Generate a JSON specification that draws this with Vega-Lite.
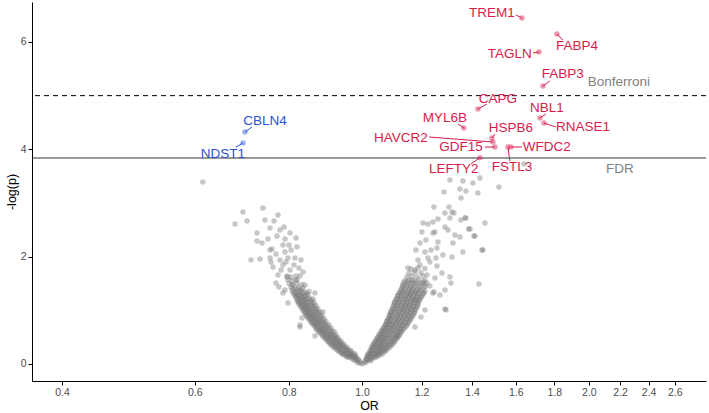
{
"$schema":"https://vega.github.io/schema/vega-lite/v6.json",
"width":674,"height":379,
"autosize":{"type":"none"},
"padding":{"left":32,"top":2,"right":3,"bottom":32},
"background":"white",
"config":{"view":{"stroke":null},
"axis":{"grid":false,"domainColor":"#000000","domainWidth":1,"tickColor":"#000000","tickSize":4,"tickWidth":1,"labelColor":"#4d4d4d","labelFontSize":10.5,"labelFont":"Liberation Sans","titleFont":"Liberation Sans","titleFontSize":12.5,"titleFontWeight":"normal","titleColor":"#000000","labelPadding":2,"titlePadding":2},
"text":{"font":"Liberation Sans"}},
"datasets":{
"grey":[
{"x":0.9879,"y":0.02},{"x":0.9969,"y":0.01},
{"x":0.9759,"y":0.07},{"x":0.9848,"y":0.05},{"x":0.9939,"y":0.04},
{"x":0.9611,"y":0.12},{"x":0.97,"y":0.1},{"x":0.9788,"y":0.12},{"x":0.9879,"y":0.09},
{"x":0.9465,"y":0.17},{"x":0.9553,"y":0.15},{"x":0.964,"y":0.17},{"x":0.9729,"y":0.15},{"x":0.9818,"y":0.14},
{"x":0.935,"y":0.22},{"x":0.9436,"y":0.2},{"x":0.9524,"y":0.22},{"x":0.9611,"y":0.2},{"x":0.97,"y":0.21},{"x":0.9788,"y":0.19},
{"x":0.9237,"y":0.28},{"x":0.9322,"y":0.26},{"x":0.9407,"y":0.28},{"x":0.9494,"y":0.26},{"x":0.9582,"y":0.27},{"x":0.967,"y":0.25},
{"x":0.9125,"y":0.34},{"x":0.9209,"y":0.32},{"x":0.9294,"y":0.34},{"x":0.9379,"y":0.32},{"x":0.9465,"y":0.33},{"x":0.9553,"y":0.31},
{"x":0.9042,"y":0.4},{"x":0.9125,"y":0.38},{"x":0.9209,"y":0.4},{"x":0.9294,"y":0.38},{"x":0.9379,"y":0.39},{"x":0.9465,"y":0.37},
{"x":0.896,"y":0.46},{"x":0.9042,"y":0.44},{"x":0.9125,"y":0.46},{"x":0.9209,"y":0.44},{"x":0.9294,"y":0.45},{"x":0.9379,"y":0.43},
{"x":0.8877,"y":0.52},{"x":0.896,"y":0.5},{"x":0.9042,"y":0.52},{"x":0.9125,"y":0.5},{"x":0.9209,"y":0.51},{"x":0.9294,"y":0.49},
{"x":0.8797,"y":0.58},{"x":0.8877,"y":0.56},{"x":0.896,"y":0.58},{"x":0.9042,"y":0.56},{"x":0.9125,"y":0.57},{"x":0.9237,"y":0.55},
{"x":0.8716,"y":0.64},{"x":0.8797,"y":0.62},{"x":0.8877,"y":0.64},{"x":0.896,"y":0.62},{"x":0.9069,"y":0.63},{"x":0.9181,"y":0.61},
{"x":0.8663,"y":0.7},{"x":0.8742,"y":0.68},{"x":0.8823,"y":0.7},{"x":0.8905,"y":0.68},{"x":0.8986,"y":0.69},{"x":0.9098,"y":0.67},
{"x":0.8584,"y":0.76},{"x":0.8663,"y":0.74},{"x":0.8742,"y":0.76},{"x":0.8823,"y":0.74},{"x":0.8932,"y":0.75},{"x":0.9042,"y":0.73},
{"x":0.8532,"y":0.82},{"x":0.861,"y":0.8},{"x":0.869,"y":0.82},{"x":0.877,"y":0.8},{"x":0.885,"y":0.81},{"x":0.896,"y":0.79},
{"x":0.8454,"y":0.88},{"x":0.8532,"y":0.86},{"x":0.861,"y":0.88},{"x":0.869,"y":0.86},{"x":0.8797,"y":0.87},{"x":0.8905,"y":0.85},
{"x":0.8403,"y":0.94},{"x":0.848,"y":0.92},{"x":0.8558,"y":0.94},{"x":0.8637,"y":0.92},{"x":0.8742,"y":0.93},{"x":0.885,"y":0.91},
{"x":0.8351,"y":1.0},{"x":0.8429,"y":0.98},{"x":0.8506,"y":1.0},{"x":0.8584,"y":0.98},{"x":0.869,"y":0.99},{"x":0.8797,"y":0.97},
{"x":0.8301,"y":1.06},{"x":0.8378,"y":1.04},{"x":0.8454,"y":1.06},{"x":0.8532,"y":1.04},{"x":0.8637,"y":1.05},{"x":0.8742,"y":1.03},
{"x":0.825,"y":1.12},{"x":0.8326,"y":1.1},{"x":0.8403,"y":1.12},{"x":0.848,"y":1.1},{"x":0.8584,"y":1.11},{"x":0.869,"y":1.09},
{"x":0.82,"y":1.18},{"x":0.8275,"y":1.16},{"x":0.8351,"y":1.18},{"x":0.8429,"y":1.16},{"x":0.8532,"y":1.17},{"x":0.8637,"y":1.15},
{"x":0.8175,"y":1.24},{"x":0.825,"y":1.22},{"x":0.8326,"y":1.24},{"x":0.8403,"y":1.22},{"x":0.8506,"y":1.23},{"x":0.861,"y":1.21},
{"x":0.8125,"y":1.3},{"x":0.82,"y":1.28},{"x":0.8275,"y":1.3},{"x":0.8378,"y":1.28},{"x":0.848,"y":1.29},
{"x":0.8076,"y":1.36},{"x":0.8175,"y":1.34},{"x":0.8275,"y":1.36},{"x":0.8378,"y":1.34},{"x":0.8506,"y":1.35},
{"x":0.8051,"y":1.43},{"x":0.815,"y":1.41},{"x":0.825,"y":1.43},{"x":0.8351,"y":1.41},
{"x":0.8002,"y":1.5},{"x":0.81,"y":1.48},{"x":0.82,"y":1.5},{"x":0.8326,"y":1.48},
{"x":0.7977,"y":1.57},{"x":0.8076,"y":1.55},{"x":0.82,"y":1.57},
{"x":0.7953,"y":1.64},{"x":0.8051,"y":1.62},{"x":0.8175,"y":1.64},
{"x":0.9804,"y":0.085},{"x":0.9894,"y":0.08},
{"x":0.9538,"y":0.135},{"x":0.9627,"y":0.14},{"x":0.9716,"y":0.13},{"x":0.9803,"y":0.135},
{"x":0.9408,"y":0.185},{"x":0.9495,"y":0.19},{"x":0.9582,"y":0.18},{"x":0.967,"y":0.185},{"x":0.9758,"y":0.17},
{"x":0.9293,"y":0.245},{"x":0.938,"y":0.25},{"x":0.9465,"y":0.24},{"x":0.9553,"y":0.245},{"x":0.964,"y":0.235},
{"x":0.9181,"y":0.305},{"x":0.9265,"y":0.31},{"x":0.935,"y":0.3},{"x":0.9436,"y":0.305},{"x":0.9524,"y":0.295},
{"x":0.9083,"y":0.365},{"x":0.9167,"y":0.37},{"x":0.9251,"y":0.36},{"x":0.9337,"y":0.365},{"x":0.9422,"y":0.355},
{"x":0.9001,"y":0.425},{"x":0.9083,"y":0.43},{"x":0.9167,"y":0.42},{"x":0.9251,"y":0.425},{"x":0.9336,"y":0.415},
{"x":0.8918,"y":0.485},{"x":0.9001,"y":0.49},{"x":0.9083,"y":0.48},{"x":0.9167,"y":0.485},{"x":0.9251,"y":0.475},
{"x":0.8837,"y":0.545},{"x":0.8918,"y":0.55},{"x":0.9001,"y":0.54},{"x":0.9083,"y":0.545},{"x":0.9181,"y":0.535},
{"x":0.8756,"y":0.605},{"x":0.8837,"y":0.61},{"x":0.8918,"y":0.6},{"x":0.9014,"y":0.605},{"x":0.9125,"y":0.595},
{"x":0.869,"y":0.665},{"x":0.877,"y":0.67},{"x":0.885,"y":0.66},{"x":0.8932,"y":0.665},{"x":0.9042,"y":0.655},
{"x":0.8623,"y":0.725},{"x":0.8703,"y":0.73},{"x":0.8783,"y":0.72},{"x":0.8878,"y":0.725},{"x":0.8986,"y":0.715},
{"x":0.8558,"y":0.785},{"x":0.8637,"y":0.79},{"x":0.8716,"y":0.78},{"x":0.8797,"y":0.785},{"x":0.8905,"y":0.775},
{"x":0.8493,"y":0.845},{"x":0.8571,"y":0.85},{"x":0.865,"y":0.84},{"x":0.8743,"y":0.845},{"x":0.885,"y":0.835},
{"x":0.8441,"y":0.905},{"x":0.8519,"y":0.91},{"x":0.8597,"y":0.9},{"x":0.869,"y":0.905},{"x":0.8797,"y":0.895},
{"x":0.839,"y":0.965},{"x":0.8467,"y":0.97},{"x":0.8545,"y":0.96},{"x":0.8637,"y":0.965},{"x":0.8743,"y":0.955},
{"x":0.834,"y":1.025},{"x":0.8416,"y":1.03},{"x":0.8493,"y":1.02},{"x":0.8584,"y":1.025},{"x":0.869,"y":1.015},
{"x":0.8288,"y":1.085},{"x":0.8365,"y":1.09},{"x":0.8441,"y":1.08},{"x":0.8532,"y":1.085},{"x":0.8637,"y":1.075},
{"x":0.8238,"y":1.145},{"x":0.8313,"y":1.15},{"x":0.839,"y":1.14},{"x":0.848,"y":1.145},{"x":0.8584,"y":1.135},
{"x":0.8213,"y":1.205},{"x":0.8288,"y":1.21},{"x":0.8365,"y":1.2},{"x":0.8455,"y":1.205},{"x":0.8558,"y":1.195},
{"x":0.8163,"y":1.265},{"x":0.8238,"y":1.27},{"x":0.8326,"y":1.26},{"x":0.8429,"y":1.265},
{"x":0.8125,"y":1.325},{"x":0.8225,"y":1.33},{"x":0.8326,"y":1.32},{"x":0.8442,"y":1.325},
{"x":0.81,"y":1.39},{"x":0.82,"y":1.395},{"x":0.83,"y":1.385},
{"x":0.615,"y":3.39},{"x":0.6953,"y":2.832},{"x":0.7391,"y":2.907},{"x":0.6786,"y":2.609},{"x":0.704,"y":2.664},{"x":0.7436,"y":2.683},{"x":0.7644,"y":2.664},{"x":0.7738,"y":2.776},{"x":0.7881,"y":2.553},{"x":0.7257,"y":2.441},{"x":0.7257,"y":2.292},{"x":0.7369,"y":2.255},{"x":0.7505,"y":2.329},{"x":0.7714,"y":2.385},{"x":0.7905,"y":2.329},{"x":0.8175,"y":2.348},{"x":0.7857,"y":2.217},{"x":0.82,"y":2.18},{"x":0.7597,"y":2.143},{"x":0.7691,"y":2.05},{"x":0.7324,"y":1.956},{"x":0.7905,"y":2.087},{"x":0.7551,"y":1.975},{"x":0.7785,"y":1.938},{"x":0.7977,"y":1.975},{"x":0.815,"y":1.975},{"x":0.762,"y":1.807},{"x":0.7857,"y":1.845},{"x":0.8027,"y":1.751},{"x":0.8351,"y":1.714},{"x":0.7738,"y":1.658},{"x":0.7953,"y":1.621},{"x":0.7857,"y":1.323},{"x":0.7977,"y":1.137},{"x":0.8275,"y":0.727},{"x":0.8663,"y":0.522},{"x":0.8326,"y":0.857},{"x":0.8663,"y":1.323},{"x":0.8877,"y":0.969},{"x":0.8051,"y":2.124},{"x":0.8125,"y":1.845},{"x":0.825,"y":1.789},{"x":0.7929,"y":1.9},{"x":0.7809,"y":1.751},{"x":0.8175,"y":1.565},{"x":0.8275,"y":1.64},{"x":0.7691,"y":1.509},{"x":0.7762,"y":1.435},{"x":0.8076,"y":1.472},{"x":0.8403,"y":1.472},{"x":0.7551,"y":2.124},{"x":0.8002,"y":2.217},{"x":0.7785,"y":2.497},{"x":0.7551,"y":2.534},{"x":0.8301,"y":1.938},{"x":0.8027,"y":2.441},{"x":0.7905,"y":1.379},{"x":0.8275,"y":0.689},{"x":0.7126,"y":1.94},{"x":0.7574,"y":1.9},
{"x":1.0031,"y":0.01},{"x":1.0123,"y":0.03},
{"x":1.0092,"y":0.05},{"x":1.0185,"y":0.07},{"x":1.0278,"y":0.06},
{"x":1.0123,"y":0.1},{"x":1.0216,"y":0.12},{"x":1.031,"y":0.1},{"x":1.0405,"y":0.12},
{"x":1.0154,"y":0.15},{"x":1.0247,"y":0.17},{"x":1.0342,"y":0.15},{"x":1.0437,"y":0.17},{"x":1.0533,"y":0.16},
{"x":1.0216,"y":0.2},{"x":1.031,"y":0.22},{"x":1.0405,"y":0.2},{"x":1.0501,"y":0.22},{"x":1.0597,"y":0.21},{"x":1.0695,"y":0.23},
{"x":1.0278,"y":0.26},{"x":1.0373,"y":0.28},{"x":1.0469,"y":0.26},{"x":1.0565,"y":0.28},{"x":1.0662,"y":0.27},{"x":1.076,"y":0.29},
{"x":1.031,"y":0.32},{"x":1.0405,"y":0.34},{"x":1.0501,"y":0.32},{"x":1.0597,"y":0.34},{"x":1.0695,"y":0.33},{"x":1.0826,"y":0.35},{"x":1.0926,"y":0.34},
{"x":1.0373,"y":0.38},{"x":1.0469,"y":0.4},{"x":1.0565,"y":0.38},{"x":1.0662,"y":0.4},{"x":1.0793,"y":0.39},{"x":1.0926,"y":0.41},{"x":1.1026,"y":0.4},
{"x":1.0437,"y":0.44},{"x":1.0533,"y":0.46},{"x":1.063,"y":0.44},{"x":1.0727,"y":0.46},{"x":1.0859,"y":0.45},{"x":1.0993,"y":0.47},{"x":1.1094,"y":0.46},
{"x":1.0501,"y":0.5},{"x":1.0597,"y":0.52},{"x":1.0695,"y":0.5},{"x":1.0826,"y":0.52},{"x":1.0959,"y":0.51},{"x":1.1094,"y":0.53},{"x":1.1196,"y":0.52},
{"x":1.0565,"y":0.56},{"x":1.0662,"y":0.58},{"x":1.076,"y":0.56},{"x":1.0893,"y":0.58},{"x":1.1026,"y":0.57},{"x":1.1162,"y":0.59},{"x":1.1264,"y":0.58},
{"x":1.063,"y":0.62},{"x":1.0727,"y":0.64},{"x":1.0826,"y":0.62},{"x":1.0959,"y":0.64},{"x":1.1094,"y":0.63},{"x":1.123,"y":0.65},{"x":1.1334,"y":0.64},
{"x":1.0695,"y":0.68},{"x":1.0793,"y":0.7},{"x":1.0893,"y":0.68},{"x":1.1026,"y":0.7},{"x":1.1162,"y":0.69},{"x":1.1299,"y":0.71},{"x":1.1438,"y":0.7},
{"x":1.076,"y":0.74},{"x":1.0859,"y":0.76},{"x":1.0959,"y":0.74},{"x":1.1094,"y":0.76},{"x":1.123,"y":0.75},{"x":1.1368,"y":0.77},{"x":1.1508,"y":0.76},
{"x":1.0793,"y":0.8},{"x":1.0893,"y":0.82},{"x":1.1026,"y":0.8},{"x":1.1162,"y":0.82},{"x":1.1299,"y":0.81},{"x":1.1438,"y":0.83},{"x":1.1579,"y":0.82},
{"x":1.0859,"y":0.86},{"x":1.0959,"y":0.88},{"x":1.1094,"y":0.86},{"x":1.123,"y":0.88},{"x":1.1368,"y":0.87},{"x":1.1508,"y":0.89},{"x":1.165,"y":0.88},
{"x":1.0893,"y":0.92},{"x":1.1026,"y":0.94},{"x":1.1162,"y":0.92},{"x":1.1299,"y":0.94},{"x":1.1438,"y":0.93},{"x":1.1579,"y":0.95},{"x":1.1721,"y":0.94},
{"x":1.0926,"y":0.98},{"x":1.106,"y":1.0},{"x":1.1196,"y":0.98},{"x":1.1334,"y":1.0},{"x":1.1473,"y":0.99},{"x":1.1614,"y":1.01},{"x":1.1756,"y":1.0},
{"x":1.0993,"y":1.04},{"x":1.1128,"y":1.06},{"x":1.1264,"y":1.04},{"x":1.1403,"y":1.06},{"x":1.1543,"y":1.05},{"x":1.1685,"y":1.07},{"x":1.1828,"y":1.06},
{"x":1.1026,"y":1.1},{"x":1.1162,"y":1.12},{"x":1.1299,"y":1.1},{"x":1.1438,"y":1.12},{"x":1.1579,"y":1.11},{"x":1.1721,"y":1.13},{"x":1.1865,"y":1.12},
{"x":1.106,"y":1.16},{"x":1.1196,"y":1.18},{"x":1.1334,"y":1.16},{"x":1.1473,"y":1.18},{"x":1.1614,"y":1.17},{"x":1.1756,"y":1.19},{"x":1.1901,"y":1.18},
{"x":1.1128,"y":1.22},{"x":1.1264,"y":1.24},{"x":1.1403,"y":1.22},{"x":1.1543,"y":1.24},{"x":1.1685,"y":1.23},{"x":1.1828,"y":1.25},{"x":1.1974,"y":1.24},
{"x":1.1162,"y":1.28},{"x":1.1299,"y":1.3},{"x":1.1438,"y":1.28},{"x":1.1579,"y":1.3},{"x":1.1721,"y":1.29},{"x":1.1865,"y":1.31},{"x":1.2048,"y":1.3},
{"x":1.123,"y":1.34},{"x":1.1368,"y":1.36},{"x":1.1508,"y":1.34},{"x":1.165,"y":1.36},{"x":1.1792,"y":1.35},{"x":1.1938,"y":1.37},{"x":1.2121,"y":1.36},
{"x":1.1299,"y":1.41},{"x":1.1438,"y":1.43},{"x":1.1579,"y":1.41},{"x":1.1721,"y":1.43},{"x":1.1901,"y":1.42},{"x":1.2084,"y":1.44},
{"x":1.1334,"y":1.48},{"x":1.1473,"y":1.5},{"x":1.1614,"y":1.48},{"x":1.1792,"y":1.5},{"x":1.1974,"y":1.49},{"x":1.2196,"y":1.51},
{"x":1.1403,"y":1.55},{"x":1.1543,"y":1.57},{"x":1.1721,"y":1.55},{"x":1.1901,"y":1.57},{"x":1.2121,"y":1.56},
{"x":1.1473,"y":1.62},{"x":1.165,"y":1.64},{"x":1.1828,"y":1.62},{"x":1.2048,"y":1.64},
{"x":1.1543,"y":1.69},{"x":1.1756,"y":1.71},{"x":1.1974,"y":1.7},
{"x":1.1614,"y":1.77},{"x":1.1865,"y":1.79},{"x":1.2121,"y":1.78},
{"x":1.0139,"y":0.085},{"x":1.0232,"y":0.09},
{"x":1.017,"y":0.135},{"x":1.0263,"y":0.14},{"x":1.0357,"y":0.13},{"x":1.0469,"y":0.135},
{"x":1.0185,"y":0.185},{"x":1.0279,"y":0.19},{"x":1.0374,"y":0.18},{"x":1.0469,"y":0.185},{"x":1.0565,"y":0.19},{"x":1.0646,"y":0.18},
{"x":1.0247,"y":0.245},{"x":1.0342,"y":0.25},{"x":1.0437,"y":0.24},{"x":1.0533,"y":0.245},{"x":1.063,"y":0.25},{"x":1.0728,"y":0.24},
{"x":1.0294,"y":0.305},{"x":1.0389,"y":0.31},{"x":1.0485,"y":0.3},{"x":1.0581,"y":0.305},{"x":1.0679,"y":0.31},{"x":1.0793,"y":0.3},{"x":1.0876,"y":0.305},
{"x":1.0342,"y":0.365},{"x":1.0437,"y":0.37},{"x":1.0533,"y":0.36},{"x":1.063,"y":0.365},{"x":1.0744,"y":0.37},{"x":1.086,"y":0.36},{"x":1.0976,"y":0.365},
{"x":1.0405,"y":0.425},{"x":1.0501,"y":0.43},{"x":1.0598,"y":0.42},{"x":1.0695,"y":0.425},{"x":1.0826,"y":0.43},{"x":1.096,"y":0.42},{"x":1.106,"y":0.425},
{"x":1.0469,"y":0.485},{"x":1.0565,"y":0.49},{"x":1.0663,"y":0.48},{"x":1.0761,"y":0.485},{"x":1.0893,"y":0.49},{"x":1.1044,"y":0.48},{"x":1.1145,"y":0.485},
{"x":1.0533,"y":0.545},{"x":1.063,"y":0.55},{"x":1.0728,"y":0.54},{"x":1.086,"y":0.545},{"x":1.0993,"y":0.55},{"x":1.1128,"y":0.54},{"x":1.1213,"y":0.545},
{"x":1.0598,"y":0.605},{"x":1.0695,"y":0.61},{"x":1.0793,"y":0.6},{"x":1.0926,"y":0.605},{"x":1.106,"y":0.61},{"x":1.1196,"y":0.6},{"x":1.1282,"y":0.605},
{"x":1.0663,"y":0.665},{"x":1.076,"y":0.67},{"x":1.086,"y":0.66},{"x":1.0993,"y":0.665},{"x":1.1128,"y":0.67},{"x":1.1265,"y":0.66},{"x":1.1386,"y":0.665},
{"x":1.0728,"y":0.725},{"x":1.0826,"y":0.73},{"x":1.0926,"y":0.72},{"x":1.106,"y":0.725},{"x":1.1196,"y":0.73},{"x":1.1334,"y":0.72},{"x":1.1473,"y":0.725},
{"x":1.0777,"y":0.785},{"x":1.0876,"y":0.79},{"x":1.0993,"y":0.78},{"x":1.1128,"y":0.785},{"x":1.1265,"y":0.79},{"x":1.1403,"y":0.78},{"x":1.1544,"y":0.785},
{"x":1.0826,"y":0.845},{"x":1.0926,"y":0.85},{"x":1.106,"y":0.84},{"x":1.1196,"y":0.845},{"x":1.1334,"y":0.85},{"x":1.1473,"y":0.84},{"x":1.1615,"y":0.845},
{"x":1.0876,"y":0.905},{"x":1.0993,"y":0.91},{"x":1.1128,"y":0.9},{"x":1.1265,"y":0.905},{"x":1.1403,"y":0.91},{"x":1.1544,"y":0.9},{"x":1.1686,"y":0.905},
{"x":1.091,"y":0.965},{"x":1.1043,"y":0.97},{"x":1.1179,"y":0.96},{"x":1.1316,"y":0.965},{"x":1.1456,"y":0.97},{"x":1.1597,"y":0.96},{"x":1.1739,"y":0.965},
{"x":1.096,"y":1.025},{"x":1.1094,"y":1.03},{"x":1.123,"y":1.02},{"x":1.1369,"y":1.025},{"x":1.1508,"y":1.03},{"x":1.165,"y":1.02},{"x":1.1792,"y":1.025},
{"x":1.101,"y":1.085},{"x":1.1145,"y":1.09},{"x":1.1282,"y":1.08},{"x":1.1421,"y":1.085},{"x":1.1561,"y":1.09},{"x":1.1703,"y":1.08},{"x":1.1847,"y":1.085},
{"x":1.1043,"y":1.145},{"x":1.1179,"y":1.15},{"x":1.1317,"y":1.14},{"x":1.1456,"y":1.145},{"x":1.1597,"y":1.15},{"x":1.1739,"y":1.14},{"x":1.1883,"y":1.145},
{"x":1.1094,"y":1.205},{"x":1.123,"y":1.21},{"x":1.1369,"y":1.2},{"x":1.1508,"y":1.205},{"x":1.165,"y":1.21},{"x":1.1792,"y":1.2},{"x":1.1938,"y":1.205},
{"x":1.1145,"y":1.265},{"x":1.1282,"y":1.27},{"x":1.1421,"y":1.26},{"x":1.1561,"y":1.265},{"x":1.1703,"y":1.27},{"x":1.1847,"y":1.26},{"x":1.2011,"y":1.265},
{"x":1.1196,"y":1.325},{"x":1.1334,"y":1.33},{"x":1.1473,"y":1.32},{"x":1.1615,"y":1.325},{"x":1.1757,"y":1.33},{"x":1.1902,"y":1.32},{"x":1.2085,"y":1.325},
{"x":1.1265,"y":1.385},{"x":1.1403,"y":1.39},{"x":1.1544,"y":1.38},{"x":1.1686,"y":1.385},{"x":1.1847,"y":1.39},{"x":1.203,"y":1.38},
{"x":1.1317,"y":1.455},{"x":1.1456,"y":1.46},{"x":1.1597,"y":1.45},{"x":1.1757,"y":1.455},{"x":1.1938,"y":1.46},{"x":1.214,"y":1.45},
{"x":1.1369,"y":1.525},{"x":1.1508,"y":1.53},{"x":1.1668,"y":1.52},{"x":1.1847,"y":1.525},{"x":1.2048,"y":1.53},
{"x":1.3083,"y":3.428},{"x":1.3612,"y":3.41},{"x":1.4034,"y":3.372},{"x":1.4337,"y":3.466},{"x":1.5194,"y":3.298},{"x":1.2845,"y":3.205},{"x":1.3488,"y":3.261},{"x":1.3738,"y":3.223},{"x":1.425,"y":3.186},{"x":1.353,"y":3.093},{"x":1.2458,"y":2.925},{"x":1.2884,"y":2.814},{"x":1.3163,"y":2.832},{"x":1.3243,"y":2.814},{"x":1.3083,"y":2.72},{"x":1.2612,"y":2.702},{"x":1.353,"y":2.683},{"x":1.3738,"y":2.72},{"x":1.4558,"y":2.627},{"x":1.2048,"y":2.627},{"x":1.2421,"y":2.646},{"x":1.3907,"y":2.515},{"x":1.2497,"y":2.46},{"x":1.2884,"y":2.553},{"x":1.3003,"y":2.497},{"x":1.3284,"y":2.404},{"x":1.3488,"y":2.366},{"x":1.4078,"y":2.385},{"x":1.3203,"y":2.255},{"x":1.2612,"y":2.273},{"x":1.1938,"y":2.255},{"x":1.3612,"y":2.087},{"x":1.447,"y":2.124},{"x":1.2806,"y":2.031},{"x":1.3163,"y":1.994},{"x":1.2121,"y":2.087},{"x":1.2573,"y":2.161},{"x":1.2307,"y":1.9},{"x":1.2573,"y":1.826},{"x":1.3083,"y":1.621},{"x":1.3123,"y":1.509},{"x":1.4295,"y":1.491},{"x":1.2497,"y":1.602},{"x":1.2767,"y":1.696},{"x":1.2421,"y":1.323},{"x":1.2689,"y":1.286},{"x":1.2924,"y":1.006},{"x":1.2121,"y":1.006},{"x":1.1974,"y":0.876},{"x":1.1756,"y":0.689},{"x":1.1756,"y":1.192},{"x":1.1128,"y":0.503},{"x":1.0793,"y":0.261},{"x":1.64,"y":3.726},
{"x":1.3043,"y":2.925},{"x":1.2233,"y":2.609},{"x":1.3697,"y":2.72},{"x":1.385,"y":2.515},{"x":1.412,"y":2.385},{"x":1.4425,"y":2.124},{"x":1.2884,"y":1.025},{"x":1.2421,"y":2.441},
{"x":1.1756,"y":1.751},{"x":1.1938,"y":1.845},{"x":1.2196,"y":1.658},{"x":1.165,"y":1.565},{"x":1.1865,"y":1.938},{"x":1.2084,"y":1.509},{"x":1.2307,"y":1.453},{"x":1.1508,"y":1.789},{"x":1.2159,"y":2.31},{"x":1.2345,"y":2.124},{"x":1.1792,"y":2.124},{"x":1.2011,"y":2.46},{"x":1.2233,"y":1.975},{"x":1.2535,"y":1.975},{"x":1.2884,"y":1.379},{"x":1.2458,"y":1.342}
],
"hits":[
{"gene":"TREM1","x":1.63,"y":6.447,"sx":1.6,"sy":6.503,"lx":1.487,"ly":6.54,"dir":"up"},
{"gene":"FABP4","x":1.814,"y":6.149,"sx":1.847,"sy":6.037,"lx":1.928,"ly":5.925,"dir":"up"},
{"gene":"TAGLN","x":1.717,"y":5.813,"sx":1.686,"sy":5.795,"lx":1.571,"ly":5.776,"dir":"up"},
{"gene":"FABP3","x":1.738,"y":5.18,"sx":1.775,"sy":5.273,"lx":1.847,"ly":5.403,"dir":"up"},
{"gene":"CAPG","x":1.425,"y":4.751,"sx":1.465,"sy":4.844,"lx":1.515,"ly":4.937,"dir":"up"},
{"gene":"NBL1","x":1.722,"y":4.584,"sx":1.754,"sy":4.658,"lx":1.759,"ly":4.77,"dir":"up"},
{"gene":"RNASE1","x":1.743,"y":4.49,"sx":1.808,"sy":4.416,"lx":1.964,"ly":4.416,"dir":"up"},
{"gene":"MYL6B","x":1.365,"y":4.397,"sx":1.341,"sy":4.472,"lx":1.288,"ly":4.584,"dir":"up"},
{"gene":"HSPB6","x":1.487,"y":4.211,"sx":1.501,"sy":4.285,"lx":1.576,"ly":4.397,"dir":"up"},
{"gene":"HAVCR2","x":1.492,"y":4.136,"sx":1.227,"sy":4.23,"lx":1.126,"ly":4.211,"dir":"up"},
{"gene":"GDF15","x":1.501,"y":4.043,"sx":1.456,"sy":4.043,"lx":1.353,"ly":4.043,"dir":"up"},
{"gene":"WFDC2","x":1.576,"y":4.043,"sx":1.63,"sy":4.043,"lx":1.759,"ly":4.043,"dir":"up"},
{"gene":"FSTL3","x":1.562,"y":4.043,"sx":1.571,"sy":3.782,"lx":1.581,"ly":3.671,"dir":"up"},
{"gene":"LEFTY2","x":1.434,"y":3.845,"sx":1.395,"sy":3.727,"lx":1.324,"ly":3.633,"dir":"up"},
{"gene":"CBLN4","x":0.6996,"y":4.323,"sx":0.7147,"sy":4.416,"lx":0.7436,"ly":4.528,"dir":"down"},
{"gene":"NDST1","x":0.6953,"y":4.118,"sx":0.6806,"sy":4.043,"lx":0.6541,"ly":3.913,"dir":"down"}
],
"thr":[
{"name":"Bonferroni","y":5.0,"lx":2.192,"ly":5.254},
{"name":"FDR","y":3.838,"lx":2.199,"ly":3.633}
]},
"layer":[
{"data":{"name":"grey"},"mark":{"type":"circle","size":30,"color":"#7a7a7a","opacity":0.42},
"encoding":{"x":{"field":"x","type":"quantitative","title":"OR","scale":{"type":"log","domain":[0.365,2.86],"nice":false,"zero":false},"axis":{"values":[0.4,0.6,0.8,1,1.2,1.4,1.6,1.8,2,2.2,2.4,2.6],"format":".1f"}},
"y":{"field":"y","type":"quantitative","title":"-log(p)","scale":{"domain":[-0.317,6.745],"nice":false,"zero":false},"axis":{"values":[0,2,4,6],"format":"d"}}}},
{"data":{"name":"thr"},"transform":[{"filter":"datum.name==='Bonferroni'"}],"mark":{"type":"rule","color":"#000000","strokeWidth":1,"strokeDash":[5,4]},
"encoding":{"y":{"field":"y","type":"quantitative","title":"-log(p)"}}},
{"data":{"name":"thr"},"transform":[{"filter":"datum.name==='FDR'"}],"mark":{"type":"rule","color":"#333333","strokeWidth":1},
"encoding":{"y":{"field":"y","type":"quantitative","title":"-log(p)"}}},
{"data":{"name":"thr"},"mark":{"type":"text","fontSize":13.5,"color":"#7f7f7f","align":"center","baseline":"middle"},
"encoding":{"x":{"field":"lx","type":"quantitative","title":"OR"},"y":{"field":"ly","type":"quantitative","title":"-log(p)"},"text":{"field":"name"}}},
{"data":{"name":"hits"},"mark":{"type":"rule","strokeWidth":1},
"encoding":{"x":{"field":"x","type":"quantitative","title":"OR"},"y":{"field":"y","type":"quantitative","title":"-log(p)"},"x2":{"field":"sx"},"y2":{"field":"sy"},
"color":{"field":"dir","type":"nominal","scale":{"domain":["up","down"],"range":["#d81b4a","#2a52d6"]},"legend":null}}},
{"data":{"name":"hits"},"mark":{"type":"circle","size":30,"opacity":0.45},
"encoding":{"x":{"field":"x","type":"quantitative","title":"OR"},"y":{"field":"y","type":"quantitative","title":"-log(p)"},
"color":{"field":"dir","type":"nominal","legend":null}}},
{"data":{"name":"hits"},"mark":{"type":"text","fontSize":13.5,"align":"center","baseline":"middle"},
"encoding":{"x":{"field":"lx","type":"quantitative","title":"OR"},"y":{"field":"ly","type":"quantitative","title":"-log(p)"},"text":{"field":"gene"},
"color":{"field":"dir","type":"nominal","legend":null}}}
]
}
